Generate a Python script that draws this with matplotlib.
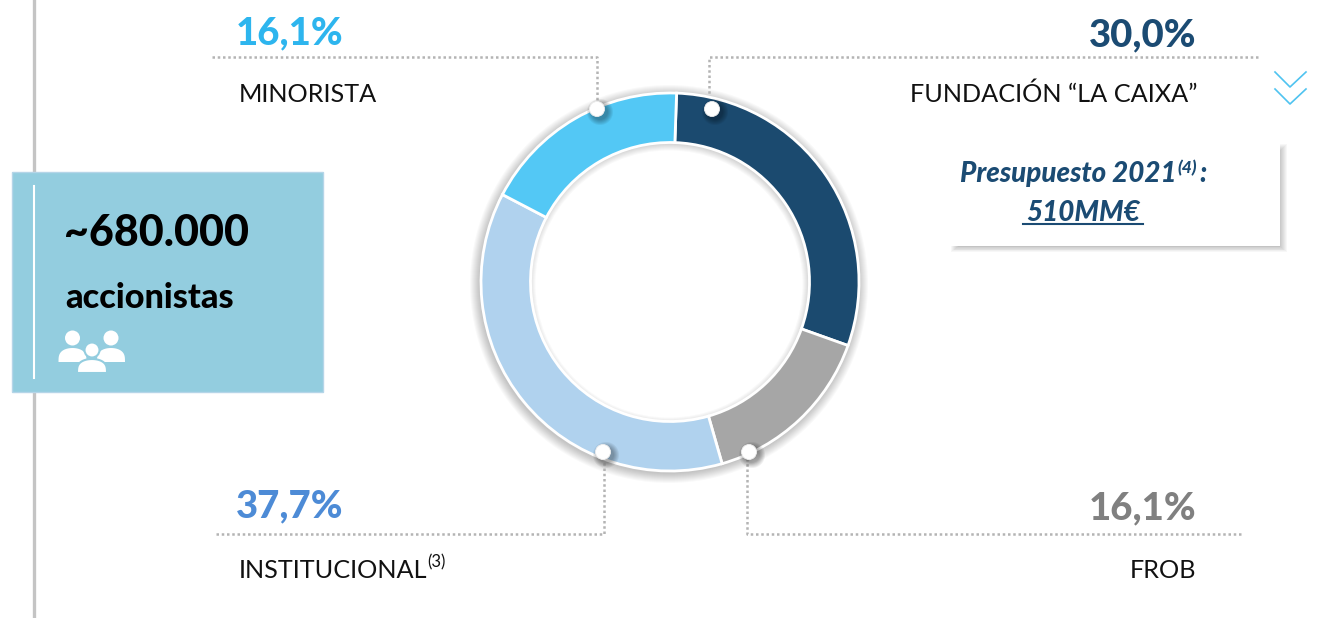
import numpy as np
import matplotlib
matplotlib.use("Agg")
import matplotlib.pyplot as plt
from matplotlib.patches import Circle, Polygon, Rectangle, Wedge

# shares as drawn on the ring (clockwise from the top)
ring_names = ["FUNDACIÓN “LA CAIXA”", "FROB", "INSTITUCIONAL", "MINORISTA"]
ring_values = [29.9, 15.1, 37.1, 17.9]
ring_colors = ["#1B4A6F", "#A6A6A6", "#B0D2EE", "#53C8F5"]

# printed labels
pct_labels = ["30,0%", "16,1%", "37,7%", "16,1%"]
pct_colors = ["#1B4B73", "#808080", "#4D8BD6", "#2DB5EE"]

plt.rcParams["font.family"] = ["Lato", "DejaVu Sans"]

fig = plt.figure(figsize=(13.24, 6.18), dpi=100)
ax = fig.add_axes([0, 0, 1, 1])

cx, cy = 670, 282
R, r = 189, 139.5

# soft shadow round the ring
for i in range(1, 11):
    ax.add_patch(Wedge((cx - 1, cy + 2), R + i, 0, 360, width=R - r + 2 * i - 4,
                       fc="black", ec="none", alpha=0.022, zorder=1))

# y axis is flipped later, so counterclock here reads clockwise on screen
ax.pie(ring_values, colors=ring_colors, center=(cx, cy), radius=R,
       startangle=-88, counterclock=True, frame=True,
       wedgeprops={"width": R - r, "edgecolor": "white", "linewidth": 2, "zorder": 2})

ax.set_xlim(0, 1324)
ax.set_ylim(618, 0)
ax.axis("off")

# left rule and box
ax.plot([34, 34], [0, 618], color="#C4C4C4", lw=2.4, zorder=0.5)
ax.add_patch(Rectangle((12, 172), 311, 220, fc="#93CDDF", ec="#B5D5E8", lw=1, zorder=1))
ax.plot([34, 34], [186, 378], color="white", lw=1.5, zorder=2)
ax.text(64, 233, "~680.000", fontsize=31, fontweight=900, color="black", va="center", zorder=3)
ax.text(65, 298, "accionistas", fontsize=24.7, fontweight=900, color="black", va="center", zorder=3)


# people icon
def person(x, head_y, half_w, foot_y, edge, z):
    t = np.linspace(0, np.pi, 40)
    body = np.column_stack([x + half_w * np.cos(t), foot_y - 14 * np.sin(t) ** 0.6])
    ax.add_patch(Polygon(body, closed=True, fc="white", ec=edge, lw=1.5, zorder=z))
    ax.add_patch(Circle((x, head_y), 7.5, fc="white", ec=edge, lw=1.5, zorder=z))


person(72.5, 338, 14, 362, "none", 3)
person(111, 338, 14, 362, "none", 3)
person(92, 350, 15, 373, "#93CDDF", 4)

# dotted leaders
dot = dict(color="#B4B4B4", lw=1.8, ls=(0, (1, 1.1)), zorder=1.5)
ax.plot([212, 597, 597], [57, 57, 102], **dot)
ax.plot([1258, 709, 709], [57, 57, 102], **dot)
ax.plot([216, 604, 604], [534, 534, 458], **dot)
ax.plot([1241, 747, 747], [534, 534, 458], **dot)

# knobs
for x, y in [(597, 109), (712, 109), (603, 452), (749, 452)]:
    for i in range(6):
        ax.add_patch(Circle((x + 3, y + 3), 8 + i, fc="black", ec="none", alpha=0.06, zorder=3))
    ax.add_patch(Circle((x, y), 7.5, fc="white", ec="#EEEEEE", lw=0.6, zorder=4))

# percentages and names
pct = dict(fontsize=27.6, fontweight=900, va="center")
ax.text(1196, 35, pct_labels[0], color=pct_colors[0], ha="right", **pct)
ax.text(1196, 508, pct_labels[1], color=pct_colors[1], ha="right", **pct)
ax.text(236, 506, pct_labels[2], color=pct_colors[2], ha="left", **pct)
ax.text(236, 33, pct_labels[3], color=pct_colors[3], ha="left", **pct)

name = dict(fontsize=18.2, color="#111111", va="center")
ax.text(1197, 94, ring_names[0], ha="right", **name)
ax.text(1196, 570, ring_names[1], ha="right", **name)
ax.text(239, 570, ring_names[2], ha="left", **name)
ax.text(427, 562, "(3)", ha="left", fontsize=12, color="#111111", va="center")
ax.text(239, 95, ring_names[3], ha="left", **name)

# chevrons
for y in (72, 89):
    ax.plot([1275, 1290, 1306], [y, y + 15, y], color="#4FC3F0", lw=1.2)

# budget box
for i in range(1, 9):
    ax.add_patch(Rectangle((959 - i, 152 - i), 320 + 2 * i, 94 + 1.7 * i, fc="black", ec="none",
                           alpha=0.03, zorder=1))
ax.add_patch(Rectangle((950, 144), 330, 102, fc="white", ec="none", zorder=2))
bud = dict(fontsize=20, fontweight=900, fontstyle="italic", color="#1B4B73", va="center", zorder=3)
ax.text(960, 174, "Presupuesto 2021", ha="left", **bud)
ax.text(1177, 168, "(4)", ha="left", fontsize=12.5, fontweight=900, fontstyle="italic", color="#1B4B73",
        va="center", zorder=3)
ax.text(1199, 174, ":", ha="left", **bud)
ax.text(1083, 213, "510MM€", ha="center", **bud)
ax.plot([1023, 1143], [224, 224], color="#1B4B73", lw=1.5, zorder=3)

fig.savefig("out.png", dpi=100)
